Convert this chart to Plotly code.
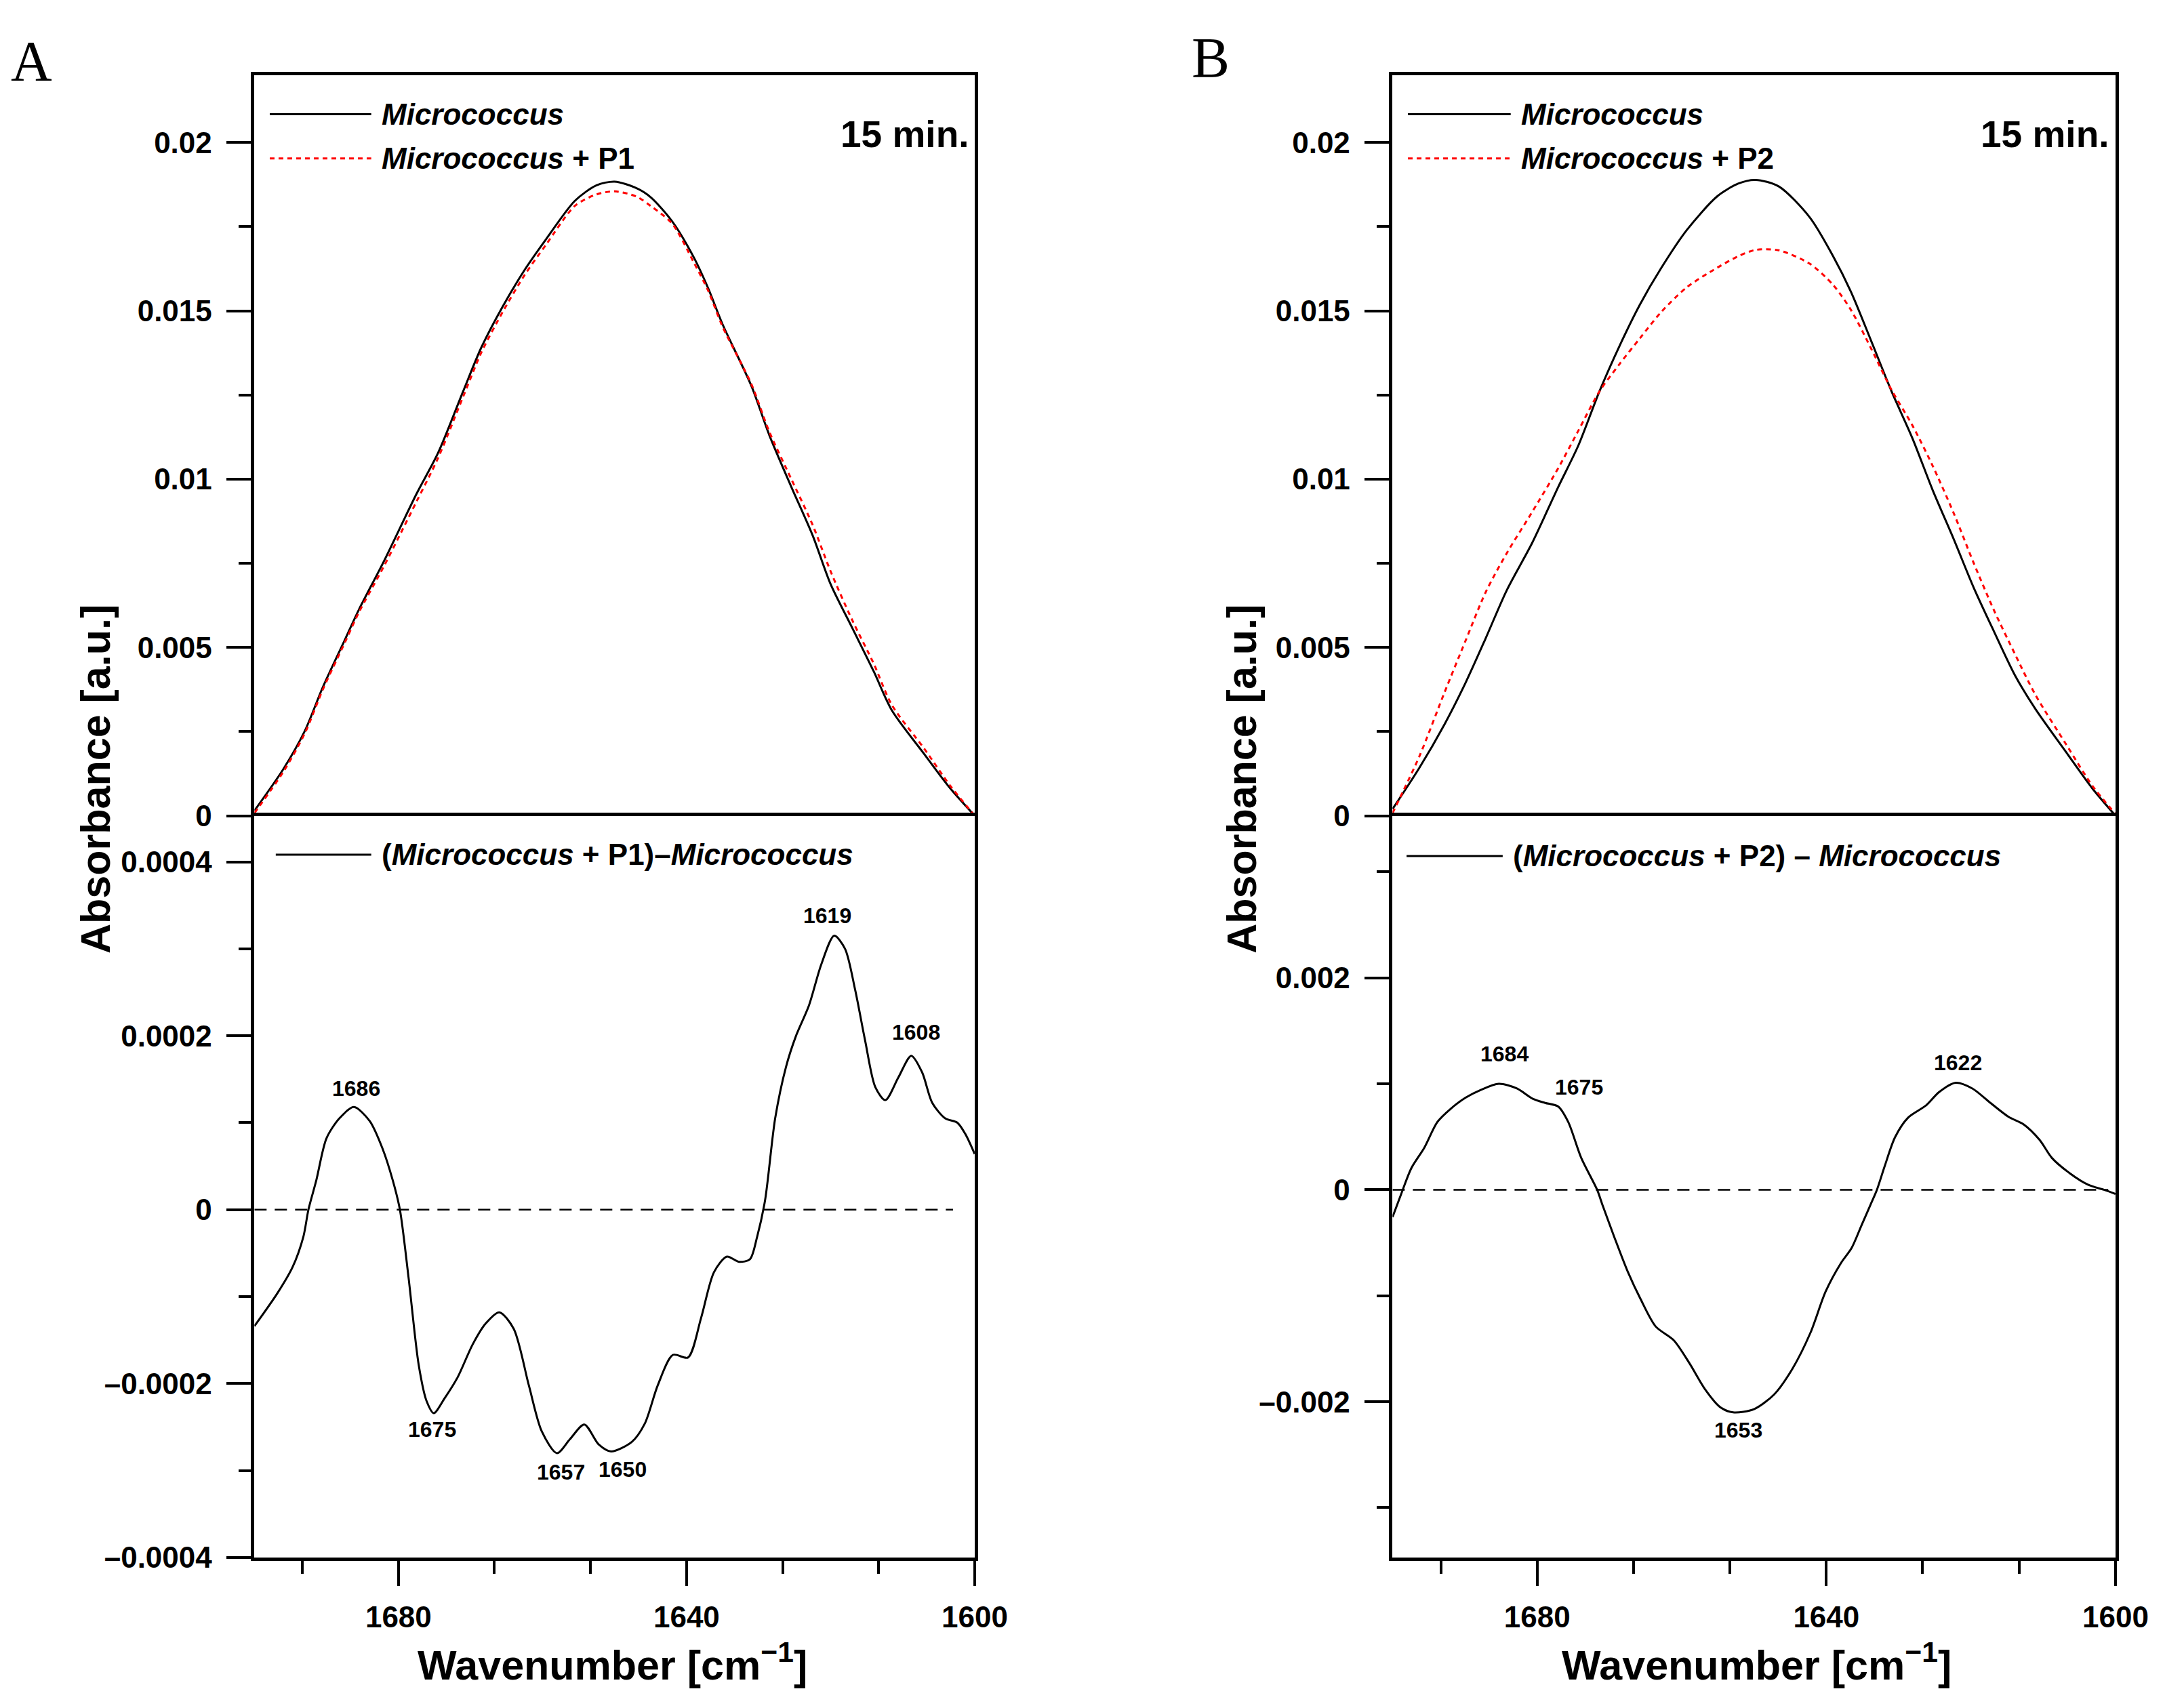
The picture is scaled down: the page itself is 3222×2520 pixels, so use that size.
import plotly.graph_objects as go

# ===== data =====
# panel A, upper: absorbance spectra
wn_top_a = [1700, 1696, 1693, 1690.5, 1687.5, 1685.5, 1682, 1677.5, 1674.5, 1671, 1668.5, 1665.5,
            1662.5, 1659.5, 1655.5, 1652.5, 1650, 1647, 1645, 1642, 1639, 1637, 1635, 1631,
            1628.5, 1625.5, 1622.5, 1620, 1617, 1614, 1611.5, 1607, 1603.5, 1600]
micro_a = [0.00015, 0.00138, 0.00252, 0.00382, 0.0052, 0.00612, 0.00757, 0.00956, 0.01078, 0.01262,
           0.01391, 0.01514, 0.01621, 0.01713, 0.01827, 0.01873, 0.01884, 0.01865, 0.01838, 0.01766,
           0.01659, 0.01567, 0.0146, 0.01277, 0.0113, 0.00979, 0.00833, 0.00688, 0.00558, 0.00428,
           0.00313, 0.00183, 0.00084, 0.0]
micro_p1 = [0.00008, 0.0013, 0.00245, 0.00375, 0.00512, 0.00604, 0.00742, 0.00933, 0.01063, 0.01246,
            0.01376, 0.01498, 0.01606, 0.01697, 0.01812, 0.01846, 0.01855, 0.0184, 0.01812, 0.01759,
            0.01644, 0.0156, 0.01453, 0.01282, 0.0114, 0.01002, 0.00864, 0.00726, 0.00581, 0.00451,
            0.00329, 0.00199, 0.00092, 0.0]

# panel A, lower: difference spectrum
wn_diff_a = [1700, 1696.8, 1694.7, 1693.2, 1692.5, 1691.4, 1690.0, 1688.2, 1686.2, 1684.0, 1682.2,
             1680.8, 1679.8, 1678.6, 1677.2, 1676.1, 1675.1, 1673.6, 1671.8, 1669.7, 1667.9, 1666.0,
             1664.0, 1661.9, 1660.1, 1658.0, 1656.2, 1654.2, 1652.2, 1650.5, 1647.6, 1645.8, 1644.0,
             1641.9, 1639.8, 1638.0, 1636.2, 1634.4, 1632.7, 1631.2, 1630.2, 1629.1, 1627.7, 1626.2,
             1624.8, 1623.0, 1621.3, 1619.5, 1618.0, 1616.6, 1615.2, 1613.8, 1612.4, 1610.6, 1608.8,
             1607.3, 1605.9, 1604.1, 1602.4, 1601.3, 1600]
diff_a = [-0.000134, -0.000096, -0.000066, -0.000031, 0.0, 0.000034, 0.000082, 0.000105, 0.000118,
          0.000102, 0.00007, 0.000034, 0.0, -0.000078, -0.000178, -0.00022, -0.000234, -0.000217,
          -0.000193, -0.000155, -0.000131, -0.000118, -0.000137, -0.000202, -0.000255, -0.00028,
          -0.000264, -0.000247, -0.00027, -0.000278, -0.000267, -0.000246, -0.000202, -0.000167,
          -0.00017, -0.000125, -0.000072, -0.000054, -0.00006, -0.000057, -0.000031, 0.000011,
          0.000105, 0.000164, 0.0002, 0.000235, 0.000282, 0.000315, 0.0003, 0.000253, 0.000194,
          0.000141, 0.000126, 0.000152, 0.000177, 0.000158, 0.000123, 0.000105, 0.0001, 0.000087,
          0.000064]
peaks_a = ["1686", "1675", "1657", "1650", "1619", "1608"]

# panel B, upper
wn_top_b = [1700, 1696.3, 1692.8, 1689.9, 1687.1, 1684.2, 1680.7, 1677.1, 1674.3, 1671.4, 1668.6,
            1665.8, 1662.9, 1659.3, 1655.1, 1652.2, 1649.8, 1646.6, 1642.3, 1639.1, 1636.6, 1633.8,
            1631.0, 1628.1, 1625.3, 1622.4, 1619.6, 1616.8, 1613.9, 1611.1, 1606.8, 1603.2, 1600]
micro_b = [0.0002, 0.00142, 0.00272, 0.00395, 0.00528, 0.0067, 0.0081, 0.00976, 0.011, 0.0126,
           0.01396, 0.01518, 0.01625, 0.0174, 0.0184, 0.01878, 0.01889, 0.0187, 0.01778, 0.01664,
           0.01557, 0.01411, 0.01262, 0.01122, 0.00968, 0.00823, 0.00677, 0.00547, 0.00417, 0.00318,
           0.00188, 0.00081, 0.0]
micro_p2 = [0.00008, 0.00176, 0.00367, 0.0052, 0.00665, 0.0078, 0.00902, 0.01032, 0.01144, 0.0126,
            0.01342, 0.01418, 0.01495, 0.0157, 0.01628, 0.01662, 0.01681, 0.0168, 0.0164, 0.01578,
            0.01503, 0.01388, 0.01266, 0.0116, 0.0104, 0.009, 0.0075, 0.0061, 0.0048, 0.0036,
            0.00211, 0.00089, 0.00005]

# panel B, lower
wn_diff_b = [1700, 1698.8, 1697.4, 1695.6, 1693.8, 1692.0, 1689.9, 1687.8, 1685.3, 1682.8, 1680.6,
             1678.9, 1677.1, 1675.7, 1673.9, 1671.7, 1671.0, 1669.3, 1667.5, 1665.7, 1663.6, 1661.1,
             1658.9, 1656.8, 1654.7, 1652.9, 1650.0, 1647.2, 1644.7, 1642.2, 1640.1, 1638.0, 1636.5,
             1635.1, 1633.7, 1633.0, 1631.9, 1630.5, 1628.7, 1626.2, 1624.4, 1622.1, 1619.8, 1617.3,
             1614.8, 1612.7, 1610.5, 1608.8, 1606.3, 1603.8, 1601.6, 1600]
diff_b = [-0.000257, -0.000039, 0.000204, 0.000398, 0.00064, 0.000762, 0.000869, 0.000942, 0.001,
          0.000956, 0.000859, 0.00082, 0.000786, 0.00064, 0.000301, 0.0, -0.000136, -0.000451,
          -0.000767, -0.00103, -0.00129, -0.00142, -0.00164, -0.00188, -0.00205, -0.0021, -0.00207,
          -0.00193, -0.00169, -0.00135, -0.000961, -0.000694, -0.000549, -0.00033, -0.000112, 0.0,
          0.000228, 0.000495, 0.00068, 0.000796, 0.000922, 0.00101, 0.000956, 0.00082, 0.000689,
          0.000617, 0.000471, 0.000301, 0.000155, 0.0000485, 0.0, -0.000039]
peaks_b = ["1684", "1675", "1622", "1653"]

x_major = [1680, 1640, 1600]
x_minor = [1693.33, 1666.67, 1653.33, 1626.67, 1613.33]

# ===== figure geometry (pixels of a 3222 x 2520 page) =====
W, H = 3222, 2520
def px(x):
    return x / W
def py(y):
    return 1 - y / H

TOP, MID, BOT = 104, 1207, 2312
XA = [px(373), px(1452)]
XB = [px(2078), px(3161)]
Y_UP = [py(MID), py(TOP)]
Y_LO = [py(BOT), py(MID)]

BOLD = "Liberation Sans, Arial, sans-serif"

fig = go.Figure()

def line(x, y, xa, ya, color="black", dash="solid"):
    fig.add_trace(go.Scatter(x=x, y=y, mode="lines", xaxis=xa, yaxis=ya, showlegend=False,
                             line=dict(color=color, width=3, dash=dash, shape="spline", smoothing=0.8)))

line(wn_top_a, micro_a, "x", "y")
line(wn_top_a, micro_p1, "x", "y", "#ff0000", "7px,6px")
line(wn_diff_a, diff_a, "x2", "y2")
line(wn_top_b, micro_b, "x3", "y3")
line(wn_top_b, micro_p2, "x3", "y3", "#ff0000", "7px,6px")
line(wn_diff_b, diff_b, "x4", "y4")

# ===== axes =====
tickfont = dict(family=BOLD, size=44, color="black", weight="bold")
frame = dict(showline=True, linecolor="black", linewidth=4.5, showgrid=False, zeroline=False)

def xaxis(domain, anchor, bottom):
    d = dict(frame, domain=domain, anchor=anchor, range=[1700, 1600], autorange=False)
    if bottom:
        # lower panel: ticks at the bottom, mirrored line forms the divider
        d.update(mirror=True, ticks="outside", ticklen=37, tickwidth=4, tickcolor="black",
                 tickmode="array", tickvals=x_major, ticktext=[str(v) for v in x_major],
                 tickfont=tickfont, ticklabelstandoff=8,
                 minor=dict(tickmode="array", tickvals=x_minor, ticks="outside",
                            ticklen=19, tickwidth=4, tickcolor="black"))
    else:
        # upper panel: only the top frame line
        d.update(side="top", mirror=False, ticks="", showticklabels=False)
    return d

def yaxis(domain, anchor, rng, vals, text, minor):
    return dict(frame, domain=domain, anchor=anchor, range=rng, autorange=False, mirror=True,
                ticks="outside", ticklen=37, tickwidth=4, tickcolor="black",
                tickmode="array", tickvals=vals, ticktext=text, tickfont=tickfont,
                ticklabelstandoff=12,
                minor=dict(tickmode="array", tickvals=minor, ticks="outside",
                           ticklen=19, tickwidth=4, tickcolor="black"))

up_vals = [0, 0.005, 0.01, 0.015, 0.02]
up_text = ["0", "0.005", "0.01", "0.015", "0.02"]
up_minor = [0.0025, 0.0075, 0.0125, 0.0175]

fig.update_layout(
    xaxis=xaxis(XA, "y", False),
    xaxis2=xaxis(XA, "y2", True),
    xaxis3=xaxis(XB, "y3", False),
    xaxis4=xaxis(XB, "y4", True),
    yaxis=yaxis(Y_UP, "x", [0, 0.022], up_vals, up_text, up_minor),
    yaxis2=yaxis(Y_LO, "x2", [-0.0004, 0.000453],
                 [-0.0004, -0.0002, 0, 0.0002, 0.0004],
                 ["\u20130.0004", "\u20130.0002", "0", "0.0002", "0.0004"],
                 [-0.0003, -0.0001, 0.0001, 0.0003]),
    yaxis3=yaxis(Y_UP, "x3", [0, 0.022], up_vals, up_text, up_minor),
    yaxis4=yaxis(Y_LO, "x4", [-0.00347, 0.00353],
                 [-0.002, 0, 0.002],
                 ["\u20130.002", "0", "0.002"],
                 [-0.003, -0.001, 0.001, 0.003]),
)

# zero reference lines in the difference panels
for xr, yr, x1 in (("x2", "y2", 1603), ("x4", "y4", 1601)):
    fig.add_shape(type="line", xref=xr, yref=yr, x0=1700, x1=x1, y0=0, y1=0,
                  line=dict(color="black", width=2.5, dash="18px,12px"))

# ===== legends drawn by hand (long sample lines) =====
def sample(x0, x1, y, color="black", dash="solid"):
    fig.add_shape(type="line", xref="paper", yref="paper", x0=px(x0), x1=px(x1),
                  y0=py(y), y1=py(y), line=dict(color=color, width=3, dash=dash))

def label(x, y, text, size=44, xanchor="left"):
    fig.add_annotation(xref="paper", yref="paper", x=px(x), y=py(y), text=text,
                       showarrow=False, xanchor=xanchor, yanchor="middle",
                       font=dict(family=BOLD, size=size, color="black", weight="bold"))

sample(396, 548, 162)
sample(396, 548, 228, "#ff0000", "7px,6px")
label(562, 162, "<i>Micrococcus</i>")
label(562, 228, "<i>Micrococcus</i> + P1")
sample(405, 548, 1265)
label(562, 1265, "(<i>Micrococcus</i> + P1)\u2013<i>Micrococcus</i>")

sample(2101, 2255, 162)
sample(2101, 2255, 228, "#ff0000", "7px,6px")
label(2269, 162, "<i>Micrococcus</i>")
label(2269, 228, "<i>Micrococcus</i> + P2")
sample(2099, 2243, 1267)
label(2256, 1267, "(<i>Micrococcus</i> + P2) \u2013 <i>Micrococcus</i>")

label(1446, 192, "15 min.", size=55, xanchor="right")
label(3154, 192, "15 min.", size=55, xanchor="right")

# ===== peak labels =====
peak_pos_a = [(1685.9, 0.000139), (1675.3, -0.000253), (1657.4, -0.000302),
              (1648.9, -0.000299), (1620.5, 0.000338), (1608.1, 0.000204)]
peak_pos_b = [(1684.5, 0.00128), (1674.2, 0.00097), (1621.8, 0.0012), (1652.2, -0.00227)]
for (xv, yv), t in zip(peak_pos_a, peaks_a):
    fig.add_annotation(xref="x2", yref="y2", x=xv, y=yv, text=t, showarrow=False,
                       font=dict(family=BOLD, size=32, color="black", weight="bold"))
for (xv, yv), t in zip(peak_pos_b, peaks_b):
    fig.add_annotation(xref="x4", yref="y4", x=xv, y=yv, text=t, showarrow=False,
                       font=dict(family=BOLD, size=32, color="black", weight="bold"))

# ===== axis titles and panel letters =====
for xc in (135, 1852):
    fig.add_annotation(xref="paper", yref="paper", x=px(xc), y=py(1152),
                       text="Absorbance [a.u.]", textangle=-90, showarrow=False,
                       xanchor="center", yanchor="middle",
                       font=dict(family=BOLD, size=61, color="black", weight="bold"))
for xc in (909, 2623):
    label(xc, 2468, "Wavenumber [cm<sup>\u22121</sup>]", size=61, xanchor="center")

for xc, yc, t in ((39, 83, "A"), (1805, 78, "B")):
    fig.add_annotation(xref="paper", yref="paper", x=px(xc), y=py(yc), text=t,
                       showarrow=False, xanchor="center", yanchor="middle",
                       font=dict(family="Liberation Serif, Times New Roman, serif",
                                 size=84, color="black"))

fig.update_layout(width=W, height=H, margin=dict(l=0, r=0, t=0, b=0),
                  paper_bgcolor="white", plot_bgcolor="white", showlegend=False)

fig.write_html("out.html")
